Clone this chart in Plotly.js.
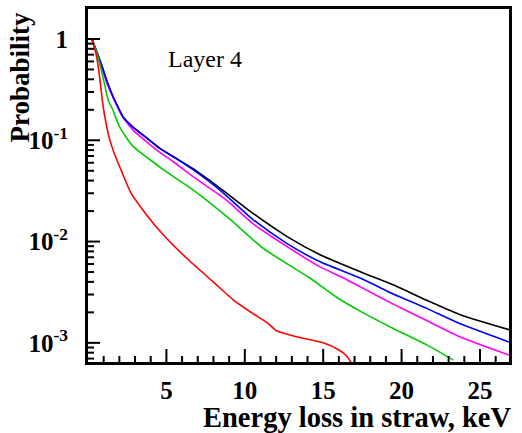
<!DOCTYPE html>
<html>
<head>
<meta charset="utf-8">
<script src="https://cdn.plot.ly/plotly-3.0.1.min.js"></script>
<style>html,body{margin:0;padding:0;background:#fff;}#chart{width:522px;height:433px;}</style>
</head>
<body>
<div id="chart"></div>
<script>
// Energy loss (keV) and probability
const redE = [0.25,0.5,0.65,0.8,0.95,1.15,1.38,1.7,2.1,2.74,3.8,4.9,6.4,8.0,9.3,10.4,11.5,12.0,13.3,15.0,16.0,16.5,16.8];
const redP = [1,0.724,0.537,0.355,0.224,0.148,0.102,0.0724,0.0513,0.0302,0.0178,0.0112,0.00661,0.00398,0.00263,0.00200,0.00155,0.00132,0.00115,0.00100,0.000851,0.000741,0.000631];

const greenE = [0.25,0.62,1.05,1.28,1.58,2.02,2.87,3.94,4.8,6.7,8.9,11.2,14.15,15.85,17.5,19.5,21.6,23.3];
const greenP = [1,0.676,0.363,0.251,0.200,0.135,0.0871,0.0646,0.0513,0.0324,0.0174,0.00851,0.00437,0.00282,0.00200,0.00138,0.000955,0.000676];

const blueE = [0.25,0.83,1.26,1.6,2.0,2.23,2.87,3.94,4.58,5.42,6.7,8.4,10.5,12.7,14.8,17.5,19.5,21.6,23.7,26.85];
const blueP = [1,0.575,0.363,0.269,0.200,0.170,0.135,0.100,0.0832,0.0692,0.0513,0.0324,0.0166,0.00955,0.00631,0.00427,0.00302,0.00219,0.00155,0.00102];

const blackE = [0.25,0.83,1.26,1.6,2.0,2.23,2.87,3.94,4.58,5.42,6.7,8.4,10.5,12.7,14.8,17.4,19.5,21.6,23.7,26.85];
const blackP = [1,0.575,0.363,0.269,0.200,0.170,0.135,0.100,0.0832,0.0692,0.0525,0.0339,0.0191,0.0112,0.00741,0.00501,0.00372,0.00263,0.00191,0.00135];

const magentaE = [0.25,0.83,1.26,2.1,2.87,3.94,4.58,5.42,6.7,8.83,10.5,12.7,14.8,16.3,17.4,19.5,21.6,23.7,26.85];
const magentaP = [1,0.550,0.347,0.182,0.126,0.0912,0.0759,0.0617,0.0437,0.0257,0.0151,0.00891,0.00562,0.00437,0.00355,0.00240,0.00166,0.00115,0.000759];

const xTickVals = [5,10,15,20,25];
const xTickText = ["5","10","15","20","25"];
const yTickVals = [1,0.1,0.01,0.001];
const yTickText = ["1","10<sup>-1</sup>","10<sup>-2</sup>","10<sup>-3</sup>"];

const XR = [0, 26.85];
const YR = [-3.189, 0.296];
const PLOT_W = 421, PLOT_H = 353;   // plot area in pixels (522-88-13, 433-9-71)

const yMinor = [];
for (let k = -4; k <= 0; k++) for (let d = 2; d <= 9; d++) {
  const v = d * Math.pow(10, k);
  if (Math.log10(v) > YR[0] && Math.log10(v) < YR[1]) yMinor.push(v);
}
const xMinor = [];
for (let i = 1; i <= 26; i++) if (i % 5 !== 0) xMinor.push(i);

function tr(x, y, c) {
  return {x: x, y: y, type: 'scatter', mode: 'lines',
          line: {color: c, width: 1.6, shape: 'spline', smoothing: 0.6}, hoverinfo: 'skip'};
}
const data = [
  tr(blackE, blackP, '#000000'),
  tr(magentaE, magentaP, '#ff00ff'),
  tr(blueE, blueP, '#0000ff'),
  tr(greenE, greenP, '#00cc00'),
  tr(redE, redP, '#ff0000')
];

// Inside tick marks: x positions on the main x scale, length on a pixel-unit overlay y scale;
// y positions on the main log y scale, length on a pixel-unit overlay x scale.
const xtX = [], xtY = [];
xTickVals.forEach(v => { xtX.push(v, v, null); xtY.push(0, 13, null); });
xMinor.forEach(v => { xtX.push(v, v, null); xtY.push(0, 6, null); });
const ytX = [], ytY = [];
yTickVals.forEach(v => { ytX.push(0, 12, null); ytY.push(v, v, null); });
yMinor.forEach(v => { ytX.push(0, 6, null); ytY.push(v, v, null); });
data.push({x: xtX, y: xtY, xaxis: 'x', yaxis: 'y2', type: 'scatter', mode: 'lines',
           line: {color: '#000', width: 2}, hoverinfo: 'skip', cliponaxis: false, connectgaps: false});
data.push({x: ytX, y: ytY, xaxis: 'x2', yaxis: 'y', type: 'scatter', mode: 'lines',
           line: {color: '#000', width: 2}, hoverinfo: 'skip', cliponaxis: false, connectgaps: false});

const serif = 'Liberation Serif, Times New Roman, serif';
const layout = {
  width: 522, height: 433,
  margin: {l: 88, r: 13, t: 9, b: 71},
  paper_bgcolor: '#fff', plot_bgcolor: '#fff',
  showlegend: false,
  font: {family: serif, color: '#000'},
  xaxis: {
    range: XR, showgrid: false, zeroline: false,
    showline: true, linewidth: 3, linecolor: '#000', mirror: true,
    ticks: '', tickmode: 'array', tickvals: xTickVals, ticktext: xTickText,
    tickfont: {family: serif, size: 25, color: '#000', weight: 'bold'},
    ticklabelstandoff: 4
  },
  yaxis: {
    type: 'log', range: YR, showgrid: false, zeroline: false,
    showline: true, linewidth: 3, linecolor: '#000', mirror: true,
    ticks: '', tickmode: 'array', tickvals: yTickVals, ticktext: yTickText,
    tickfont: {family: serif, size: 25, color: '#000', weight: 'bold'},
    ticklabelstandoff: 12
  },
  xaxis2: {range: [0, PLOT_W], overlaying: 'x', anchor: 'y', visible: false, showgrid: false, zeroline: false},
  yaxis2: {range: [0, PLOT_H], overlaying: 'y', anchor: 'x', visible: false, showgrid: false, zeroline: false},
  annotations: [
    {text: 'Layer 4', xref: 'paper', yref: 'paper', x: 0.186, y: 0.858, xanchor: 'left', yanchor: 'middle',
     showarrow: false, font: {family: serif, size: 24, color: '#000'}},
    {text: '<b>Energy loss in straw, keV</b>', xref: 'paper', yref: 'paper', x: 1.0095, y: -0.158, xanchor: 'right', yanchor: 'middle',
     showarrow: false, font: {family: serif, size: 28.5, color: '#000'}},
    {text: '<b>Probability</b>', xref: 'paper', yref: 'paper', x: -0.1605, y: 0.807, xanchor: 'center', yanchor: 'middle',
     textangle: -90, showarrow: false, font: {family: serif, size: 27, color: '#000'}}
  ]
};
Plotly.newPlot('chart', data, layout, {displayModeBar: false, staticPlot: true});
</script>
</body>
</html>
